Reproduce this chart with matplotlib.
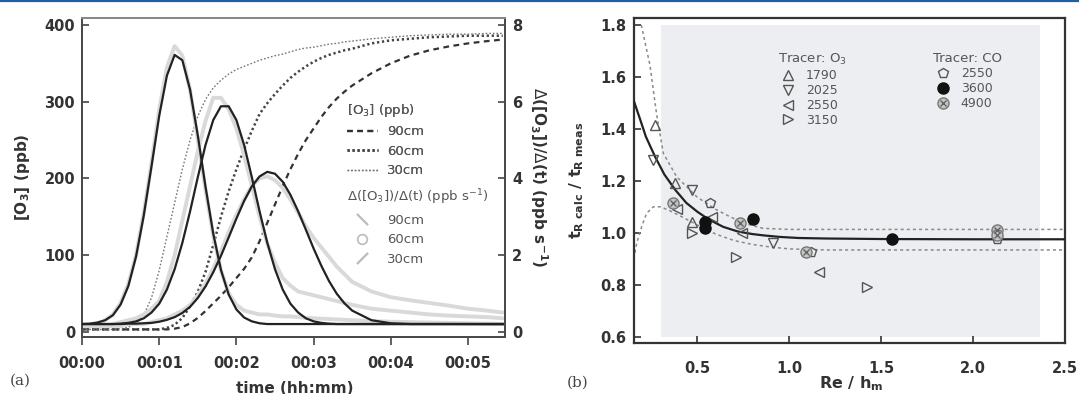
import matplotlib
matplotlib.use("Agg")
import matplotlib.pyplot as plt
from matplotlib.lines import Line2D

plt.rcParams['font.family'] = ['DejaVu Sans']
plt.rcParams['mathtext.fontset'] = 'dejavusans'

# ---------------- panel (a) data ----------------
time_min = [0.0, 0.1, 0.2, 0.3, 0.4, 0.5, 0.6, 0.7, 0.8, 0.9,
            1.0, 1.1, 1.2, 1.3, 1.4, 1.5, 1.6, 1.7, 1.8, 1.9,
            2.0, 2.1, 2.2, 2.3, 2.4, 2.5, 2.6, 2.7, 2.8, 2.9,
            3.0, 3.1, 3.2, 3.3, 3.4, 3.5, 3.75, 4.0, 4.25, 4.5,
            4.75, 5.0, 5.25, 5.45]

# cumulative ozone [O3] (ppb), left axis
o3_90cm = [3, 3, 3, 3, 3, 3, 3, 3, 3, 3, 3, 3, 4, 6, 11, 18, 27, 37, 47, 58,
           70, 82, 97, 118, 142, 166, 190, 212, 232, 250, 265, 280, 293, 304,
           313, 321, 337, 350, 360, 367, 372, 376, 379, 381]
o3_60cm = [3, 3, 3, 3, 3, 3, 3, 3, 3, 3, 3, 5, 9, 18, 33, 52, 78, 113, 150, 183,
           212, 238, 262, 284, 298, 310, 321, 331, 339, 346, 352, 357, 361, 364,
           367, 369, 376, 380, 382, 384, 385, 386, 386, 386]
o3_30cm = [3, 3, 3, 3, 3, 4, 6, 10, 22, 44, 80, 124, 168, 212, 250, 281, 303, 318,
           328, 336, 342, 346, 350, 354, 357, 360, 362, 365, 368, 370, 371, 373,
           375, 376, 378, 379, 382, 384, 386, 387, 388, 388, 389, 389]

# fitted rate d[O3]/dt (ppb s-1), right axis
rate_fit_90cm = [0.2, 0.2, 0.2, 0.2, 0.2, 0.2, 0.21, 0.21, 0.22, 0.23, 0.26, 0.31,
                 0.38, 0.49, 0.65, 0.88, 1.18, 1.55, 1.98, 2.46, 2.95, 3.41, 3.79,
                 4.05, 4.17, 4.12, 3.91, 3.57, 3.14, 2.66, 2.17, 1.72, 1.32, 0.99,
                 0.74, 0.55, 0.30, 0.22, 0.2, 0.2, 0.2, 0.2, 0.2, 0.2]
rate_fit_60cm = [0.2, 0.2, 0.2, 0.2, 0.2, 0.21, 0.23, 0.27, 0.35, 0.50, 0.73, 1.10,
                 1.63, 2.32, 3.14, 4.03, 4.87, 5.52, 5.88, 5.88, 5.52, 4.87, 4.03,
                 3.14, 2.32, 1.63, 1.10, 0.73, 0.50, 0.35, 0.27, 0.23, 0.21, 0.2,
                 0.2, 0.2, 0.2, 0.2, 0.2, 0.2, 0.2, 0.2, 0.2, 0.2]
rate_fit_30cm = [0.20, 0.21, 0.24, 0.30, 0.43, 0.71, 1.19, 1.96, 3.03, 4.31, 5.63,
                 6.68, 7.22, 7.08, 6.31, 5.12, 3.78, 2.56, 1.61, 0.97, 0.58, 0.37,
                 0.27, 0.22, 0.2, 0.2, 0.2, 0.2, 0.2, 0.2, 0.2, 0.2, 0.2, 0.2, 0.2,
                 0.2, 0.2, 0.2, 0.2, 0.2, 0.2, 0.2, 0.2, 0.2]

# measured rate (grey data), right axis
rate_data_90cm = [0.15, 0.15, 0.15, 0.15, 0.15, 0.15, 0.2, 0.2, 0.2, 0.25, 0.3, 0.35,
                  0.45, 0.55, 0.7, 0.95, 1.25, 1.65, 2.1, 2.6, 3.05, 3.45, 3.8, 4.0,
                  4.05, 3.95, 3.75, 3.45, 3.1, 2.75, 2.45, 2.2, 1.95, 1.7, 1.5, 1.3,
                  1.05, 0.9, 0.82, 0.75, 0.68, 0.6, 0.55, 0.5]
rate_data_60cm = [0.15, 0.15, 0.15, 0.15, 0.2, 0.25, 0.3, 0.35, 0.45, 0.6, 0.8, 1.3,
                  2.0, 2.9, 3.8, 4.7, 5.5, 6.1, 6.1, 5.8, 5.3, 4.6, 3.8, 3.0, 2.3,
                  1.8, 1.4, 1.2, 1.05, 1.0, 0.95, 0.9, 0.85, 0.8, 0.75, 0.7, 0.6,
                  0.55, 0.5, 0.45, 0.42, 0.4, 0.38, 0.35]
rate_data_30cm = [0.15, 0.15, 0.2, 0.3, 0.45, 0.75, 1.25, 2.0, 3.1, 4.4, 5.8, 6.9,
                  7.45, 7.2, 6.3, 5.0, 3.7, 2.5, 1.6, 1.0, 0.7, 0.55, 0.5, 0.45,
                  0.45, 0.42, 0.4, 0.4, 0.38, 0.36, 0.35, 0.34, 0.33, 0.32, 0.31,
                  0.3, 0.28, 0.26, 0.25, 0.24, 0.23, 0.22, 0.21, 0.2]

time_ticks = [0, 1, 2, 3, 4, 5]
time_tick_labels = ["00:00", "00:01", "00:02", "00:03", "00:04", "00:05"]
conc_ticks = [0, 100, 200, 300, 400]
rate_ticks = [0, 2, 4, 6, 8]

# ---------------- panel (b) data ----------------
o3_1790_x = [0.27, 0.38, 0.47]
o3_1790_y = [1.415, 1.19, 1.04]
o3_2025_x = [0.26, 0.47, 0.91]
o3_2025_y = [1.28, 1.165, 0.96]
o3_2550_x = [0.39, 0.58, 0.74, 1.16]
o3_2550_y = [1.09, 1.06, 1.00, 0.85]
o3_3150_x = [0.47, 0.71, 1.42]
o3_3150_y = [1.00, 0.905, 0.79]
co_2550_x = [0.57, 1.12, 2.13]
co_2550_y = [1.115, 0.927, 0.975]
co_3600_x = [0.54, 0.54, 0.80, 1.56]
co_3600_y = [1.04, 1.02, 1.055, 0.975]
co_4900_x = [0.37, 0.73, 1.09, 2.13, 2.13]
co_4900_y = [1.113, 1.036, 0.927, 1.01, 0.99]

fit_x = [0.153, 0.19, 0.22, 0.27, 0.32, 0.38, 0.44, 0.5, 0.56, 0.64, 0.72, 0.8,
         0.86, 0.95, 1.05, 1.2, 1.5, 2.0, 2.5]
fit_y = [1.511, 1.434, 1.37, 1.293, 1.225, 1.165, 1.115, 1.081, 1.052, 1.023,
         1.005, 0.995, 0.99, 0.984, 0.98, 0.978, 0.976, 0.975, 0.975]
upper_x = [0.195, 0.242, 0.279, 0.315, 0.387, 0.496, 0.6, 0.677, 0.76, 0.858,
           1.0, 1.5, 2.5]
upper_y = [1.8, 1.646, 1.453, 1.306, 1.216, 1.139, 1.09, 1.062, 1.035, 1.017,
           1.013, 1.013, 1.013]
lower_x = [0.155, 0.17, 0.2, 0.224, 0.26, 0.3, 0.35, 0.42, 0.5, 0.6, 0.7, 0.8,
           0.9, 1.0, 1.2, 2.5]
lower_y = [0.9, 0.96, 1.03, 1.075, 1.10, 1.1, 1.085, 1.06, 1.03, 0.995, 0.97,
           0.955, 0.945, 0.938, 0.934, 0.934]
valid_range = [0.30, 2.36]

re_ticks = [0.5, 1.0, 1.5, 2.0, 2.5]
ratio_ticks = [0.6, 0.8, 1.0, 1.2, 1.4, 1.6, 1.8]

# ---------------- figure ----------------
W, H = 1079, 394
fig = plt.figure(figsize=(W / 100, H / 100), dpi=100)
fig.add_artist(Line2D([0, 1], [1 - 1.0 / H, 1 - 1.0 / H], color='#1f5ea8', lw=1.6))

frame_col = '#4a4a4a'

axL = fig.add_axes([82 / W, (H - 337) / H, (505 - 82) / W, (337 - 18) / H])
axR = axL.twinx()

# grey measured data
grey = '#d9d9d9'
for r in (rate_data_90cm, rate_data_60cm, rate_data_30cm):
    axR.plot(time_min, r, color=grey, lw=2.8, solid_capstyle='round', zorder=1)
# fits
for r in (rate_fit_90cm, rate_fit_60cm, rate_fit_30cm):
    axR.plot(time_min, r, color='#222222', lw=1.6, zorder=3)

# cumulative
axL.plot(time_min, o3_90cm, color='#333333', lw=1.6, dashes=(2.6, 2.0), zorder=2)
axL.plot(time_min, o3_60cm, color='#444444', lw=1.8, dashes=(0.9, 1.1), zorder=2)
axL.plot(time_min, o3_30cm, color='#777777', lw=1.0, dashes=(1.2, 1.4), zorder=2)

axL.set_xlim(0, (505 - 82) / 77.2)
axL.set_ylim(-6.9, 409.1)
axR.set_ylim(-0.138, 8.182)
axL.set_xticks(time_ticks)
axL.set_xticklabels(time_tick_labels)
axL.set_yticks(conc_ticks)
axR.set_yticks(rate_ticks)
axL.tick_params(axis='x', direction='out', length=6, width=1.2, pad=8, colors='#444444')
axL.tick_params(axis='y', direction='in', length=5, width=1.2, pad=5, colors='#444444')
axR.tick_params(axis='y', direction='in', length=5, width=1.2, pad=5, colors='#444444')
for lab in axL.get_xticklabels() + axL.get_yticklabels() + axR.get_yticklabels():
    lab.set_fontsize(10.5)
    lab.set_fontweight('bold')
    lab.set_color('#333333')
for ax in (axL, axR):
    for s in ax.spines.values():
        s.set_color(frame_col)
        s.set_linewidth(1.4)
    ax.spines['top'].set_color('#888888')

axL.set_xlabel('time (hh:mm)', fontsize=11, fontweight='bold', color='#333333')
axL.xaxis.set_label_coords(0.502, -0.137)
axL.set_ylabel(r'[O$_\mathbf{3}$] (ppb)', fontsize=11, fontweight='bold', color='#333333')
axL.yaxis.set_label_coords(-0.118, 0.5)
axR.set_ylabel(r'$\Delta$([O$_\mathbf{3}$])/$\Delta$(t) (ppb s$^{\mathbf{-1}}$)',
               rotation=270, fontsize=11, fontweight='bold', color='#333333')
axR.yaxis.set_label_coords(1.105, 0.5)

# legends panel (a)
leg_kw = dict(frameon=False, borderpad=0, fontsize=9.5, title_fontsize=9.5,
              handlelength=2.35, handletextpad=0.7, labelspacing=0.5,
              alignment='left', bbox_transform=fig.transFigure, loc='upper left')
h1 = [Line2D([], [], color='#333333', lw=1.6, dashes=(2.6, 2.0)),
      Line2D([], [], color='#444444', lw=1.8, dashes=(0.9, 1.1)),
      Line2D([], [], color='#777777', lw=1.0, dashes=(1.2, 1.4))]
lg1 = axL.legend(h1, ['90cm', '60cm', '30cm'], title=r'[O$_3$] (ppb)',
                 bbox_to_anchor=(340 / W, 1 - 95 / H), **leg_kw)
for t in lg1.get_texts():
    t.set_color('#555555')
lg1.get_title().set_color('#555555')
h2 = [Line2D([], [], ls='none', marker=[(-1, 1), (1, -1)], ms=8, mew=1.6, mec='#bbbbbb'),
      Line2D([], [], ls='none', marker='o', ms=7, mfc='none', mew=1.2, mec='#bbbbbb'),
      Line2D([], [], ls='none', marker=[(-1, -1), (1, 1)], ms=8, mew=1.6, mec='#bbbbbb')]
lg2 = axR.legend(h2, ['90cm', '60cm', '30cm'],
                 title=r'$\Delta$([O$_3$])/$\Delta$(t) (ppb s$^{-1}$)',
                 bbox_to_anchor=(340 / W, 1 - 181 / H), **leg_kw)
for t in lg2.get_texts():
    t.set_color('#555555')
lg2.get_title().set_color('#555555')
axL.add_artist(lg1)

# ---------------- panel (b) ----------------
axB = fig.add_axes([633.5 / W, (H - 343) / H, (1065.3 - 633.5) / W, (343 - 18) / H])
axB.fill_between(valid_range, 0.6, 1.8, color='#eceef1', lw=0, zorder=0)
axB.plot(fit_x, fit_y, color='#222222', lw=1.6, zorder=3)
axB.plot(upper_x, upper_y, color='#8a8a8a', lw=1.1, dashes=(2, 2), zorder=2)
axB.plot(lower_x, lower_y, color='#8a8a8a', lw=1.1, dashes=(2, 2), zorder=2)

mk = dict(ls='none', mfc='none', mec='#555555', mew=1.0, ms=7.5, zorder=4)
p1, = axB.plot(o3_1790_x, o3_1790_y, marker='^', **mk)
p2, = axB.plot(o3_2025_x, o3_2025_y, marker='v', **mk)
p3, = axB.plot(o3_2550_x, o3_2550_y, marker='<', **mk)
p4, = axB.plot(o3_3150_x, o3_3150_y, marker='>', **mk)
p5, = axB.plot(co_2550_x, co_2550_y, marker='p', **mk)
p6, = axB.plot(co_3600_x, co_3600_y, ls='none', marker='o', ms=8, mfc='#111111',
               mec='#111111', zorder=5)
p7a, = axB.plot(co_4900_x, co_4900_y, ls='none', marker='o', ms=8, mfc='#c4c4c4',
                mec='#777777', mew=1.0, zorder=5)
p7b, = axB.plot(co_4900_x, co_4900_y, ls='none', marker='x', ms=5, mec='#666666',
                mew=1.0, zorder=6)

axB.set_xlim(0.1527, 2.5)
axB.set_ylim(0.5757, 1.827)
axB.set_xticks(re_ticks)
axB.set_xticklabels([f'{v:.1f}' for v in re_ticks])
axB.set_yticks(ratio_ticks)
axB.set_yticklabels([f'{v:.1f}' for v in ratio_ticks])
axB.tick_params(axis='x', direction='in', length=5, width=1.2, pad=13, colors='#333333')
axB.tick_params(axis='y', direction='in', length=5, width=1.2, pad=5, colors='#333333')
for lab in axB.get_xticklabels() + axB.get_yticklabels():
    lab.set_fontsize(10.5)
    lab.set_fontweight('bold')
    lab.set_color('#333333')
for s in axB.spines.values():
    s.set_color('#333333')
    s.set_linewidth(1.6)
axB.set_xlabel(r'Re / h$_\mathbf{m}$', fontsize=11.5, fontweight='bold', color='#333333')
axB.xaxis.set_label_coords(0.504, -0.097)
axB.set_ylabel(r'$\mathbf{t_{R\ calc}}$ / $\mathbf{t_{R\ meas}}$', fontsize=11.5,
               fontweight='bold', color='#333333')
axB.yaxis.set_label_coords(-0.11, 0.5)

lkw = dict(frameon=False, borderpad=0, fontsize=9, title_fontsize=9.5,
           handlelength=1.6, handletextpad=0.6, labelspacing=0.15,
           alignment='left', bbox_transform=fig.transFigure, loc='upper left')
lb1 = axB.legend([p1, p2, p3, p4], ['1790', '2025', '2550', '3150'],
                 title=r'Tracer: O$_3$', bbox_to_anchor=(772 / W, 1 - 46 / H), **lkw)
for t in lb1.get_texts():
    t.set_color('#555555')
lb1.get_title().set_color('#555555')
lb2 = axB.legend([p5, p6, (p7a, p7b)], ['2550', '3600', '4900'],
                 title='Tracer: CO', bbox_to_anchor=(927 / W, 1 - 46 / H), **lkw)
for t in lb2.get_texts():
    t.set_color('#555555')
lb2.get_title().set_color('#555555')
axB.add_artist(lb1)

fig.text(20 / W, 1 - 381 / H, '(a)', fontsize=11, family='DejaVu Serif',
         ha='center', va='center', color='#444444')
fig.text(578 / W, 1 - 383 / H, '(b)', fontsize=11, family='DejaVu Serif',
         ha='center', va='center', color='#444444')

fig.savefig('out.png', dpi=100)
